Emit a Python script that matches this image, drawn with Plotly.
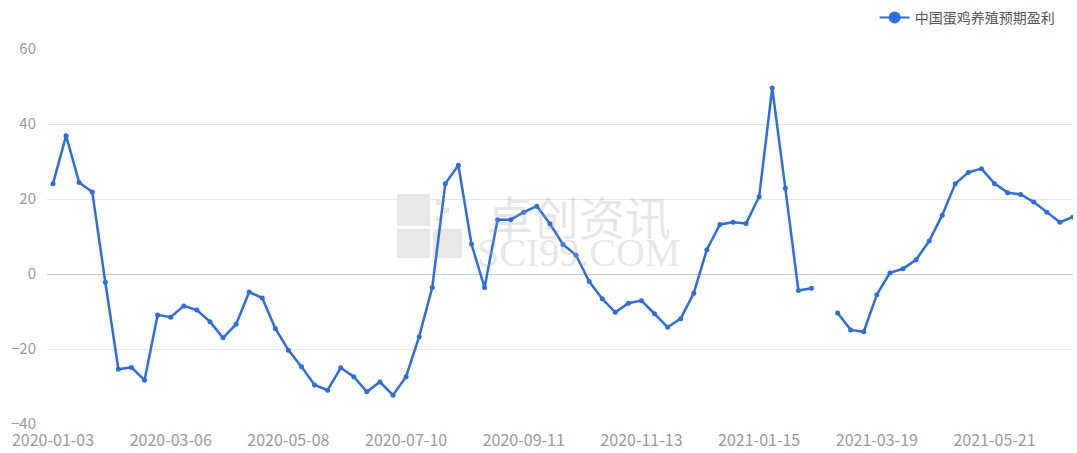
import pandas as pd
import plotly.graph_objects as go

# ---- data ----
dates = [d.strftime("%Y-%m-%d") for d in pd.date_range("2020-01-03", periods=79, freq="7D")]
profit = [
    24.1, 36.9, 24.4, 21.9, -2.2, -25.4, -24.9, -28.3, -10.9, -11.5,
    -8.5, -9.6, -12.7, -17.0, -13.4, -4.8, -6.4, -14.5, -20.3, -24.7,
    -29.6, -31.0, -25.0, -27.4, -31.4, -28.8, -32.3, -27.4, -16.7, -3.6,
    24.1, 29.0, 8.0, -3.6, 14.5, 14.5, 16.5, 18.1, 13.4, 7.9,
    5.0, -2.0, -6.6, -10.2, -7.8, -7.1, -10.6, -14.2, -11.9, -5.1,
    6.5, 13.2, 13.8, 13.5, 20.6, 49.6, 22.9, -4.4, -3.8, None,
    -10.4, -14.9, -15.4, -5.5, 0.3, 1.4, 3.8, 8.8, 15.7, 24.1,
    27.1, 28.1, 24.1, 21.7, 21.2, 19.2, 16.5, 13.8, 15.2,
]
series_name = "中国蛋鸡养殖预期盈利"
tick_dates = dates[::9]
y_ticks = [-40, -20, 0, 20, 40, 60]

BLUE = "#2b6de3"
FONT = "Noto Sans CJK SC, Noto Sans, sans-serif"

fig = go.Figure()

# main line (legend shown by a separate proxy with larger marker)
fig.add_trace(go.Scatter(
    x=dates, y=profit, mode="lines+markers", name=series_name,
    line=dict(color=BLUE, width=2.5), marker=dict(color=BLUE, size=5),
    connectgaps=False, showlegend=False, hoverinfo="x+y",
))
fig.add_trace(go.Scatter(
    x=[None], y=[None], mode="lines+markers", name=series_name,
    line=dict(color=BLUE, width=2), marker=dict(color=BLUE, size=12),
    showlegend=True,
))

n = len(dates)
xr = [-0.46, n - 1]

fig.update_layout(
    width=1077, height=453,
    margin=dict(l=47, r=4, t=49, b=29, autoexpand=False),
    paper_bgcolor="white", plot_bgcolor="white",
    font=dict(family=FONT, color="#9a9a9a", size=15),
    xaxis=dict(
        type="category", categoryorder="array", categoryarray=dates,
        range=xr, tickmode="array", tickvals=tick_dates, ticktext=tick_dates,
        showgrid=False, zeroline=False, showline=False, ticks="",
        ticklabelstandoff=5, automargin=False,
        tickfont=dict(size=16, color="#9a9a9a"),
    ),
    xaxis2=dict(
        overlaying="x", anchor="free", position=0.4, range=xr,
        tickmode="array", tickvals=[i + 4.5 for i in range(0, n - 5, 9)],
        showticklabels=False, ticks="outside", ticklen=5, tickcolor="#cccccc",
        showgrid=False, zeroline=False, showline=False, automargin=False,
    ),
    yaxis=dict(
        range=[-40, 60], tickvals=y_ticks, showgrid=True, gridcolor="#e5e5e5",
        zeroline=True, zerolinecolor="#cccccc", zerolinewidth=1,
        showline=False, ticks="", ticklabelstandoff=10, automargin=False,
        tickfont=dict(size=15, color="#9a9a9a"),
    ),
    legend=dict(
        x=0.987, xanchor="right", y=1.083, yanchor="middle",
        orientation="h", font=dict(size=14, color="#555555", family=FONT),
        bgcolor="rgba(0,0,0,0)", itemwidth=30,
    ),
    showlegend=True,
)

# watermark (logo blocks + text)
WM = "rgba(170,170,170,0.28)"
def px_rect(x0, x1, ytop, ybot):
    fig.add_shape(type="rect", xref="paper", yref="paper",
                  x0=(x0 - 47) / 1026, x1=(x1 - 47) / 1026,
                  y0=(424 - ybot) / 375, y1=(424 - ytop) / 375,
                  fillcolor=WM, line_width=0, layer="below")

px_rect(397, 430, 194, 226)
px_rect(397, 430, 229, 258)
px_rect(433, 462, 229, 258)
px_rect(436, 441, 200, 205)
px_rect(444, 449, 208, 213)
px_rect(436, 441, 216, 221)

fig.add_annotation(
    text=("<span style='font-size:46px'>卓创资讯</span><br>"
          "<span style='font-family:Liberation Serif, serif;font-size:40px'>SCI99.COM</span>"),
    xref="paper", yref="paper",
    x=(578 - 47) / 1026, y=(424 - 228) / 375, yanchor="middle",
    showarrow=False, align="center",
    font=dict(size=24, color="rgba(170,170,170,0.3)", family=FONT),
)

fig.write_html("out.html", config={"displayModeBar": False},
               post_script="document.body.style.margin='0';")
